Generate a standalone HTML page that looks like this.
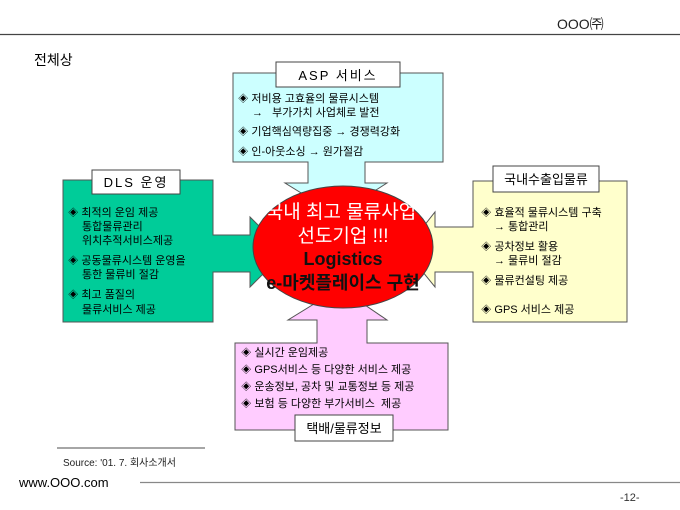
<!DOCTYPE html>
<html><head><meta charset="utf-8"><style>
html,body{margin:0;padding:0;background:#fff;}
svg{display:block;font-family:"Liberation Sans","Noto Sans CJK KR","NanumGothic",sans-serif;}
.t{font-size:11px;fill:#000;}
</style></head><body>
<svg width="680" height="510" viewBox="0 0 680 510">
<text x="557" y="29" font-size="14" fill="#222">OOO㈜</text>
<line x1="0" y1="34.5" x2="680" y2="34.5" stroke="#444" stroke-width="1.2"/>
<text x="34" y="65" font-size="14" fill="#000">전체상</text>

<polygon points="233,73 443,73 443,162 365,162 365,183 387,183 337,215 285,183 308,183 308,162 233,162" fill="#ccffff" stroke="#555"/>
<polygon points="63,180 213,180 213,235 250,235 250,217 285,252 250,287 250,272 213,272 213,322 63,322" fill="#00cc99" stroke="#555"/>
<polygon points="473,181 627,181 627,322 473,322 473,272 435,272 435,287 405,250 435,212 435,227 473,227" fill="#ffffcc" stroke="#555"/>
<polygon points="235,343 317,343 317,320 288,320 340,288 387,320 367,320 367,343 448,343 448,430 235,430" fill="#ffccff" stroke="#555"/>

<ellipse cx="343" cy="247" rx="90" ry="61" fill="#ff0000" stroke="#444"/>
<g font-size="18" font-weight="bold" text-anchor="middle">
<text x="341" y="218" fill="#fff" font-weight="normal" font-size="19">국내 최고 물류사업</text>
<text x="343" y="242" fill="#fff" font-weight="normal" font-size="19">선도기업 !!!</text>
<text x="343" y="265" fill="#111">Logistics</text>
<text x="343" y="289" fill="#111">e-마켓플레이스 구현</text>
</g>

<rect x="276" y="62" width="124" height="25" fill="#fff" stroke="#444"/>
<text x="338" y="80" font-size="13" text-anchor="middle" letter-spacing="2">ASP 서비스</text>
<rect x="92" y="170" width="88" height="24" fill="#fff" stroke="#444"/>
<text x="136" y="187" font-size="13" text-anchor="middle" letter-spacing="2">DLS 운영</text>
<rect x="493" y="166" width="106" height="26" fill="#fff" stroke="#444"/>
<text x="546" y="184" font-size="13" text-anchor="middle">국내수출입물류</text>
<rect x="295" y="415" width="98" height="26" fill="#fff" stroke="#444"/>
<text x="344" y="433" font-size="13" text-anchor="middle">택배/물류정보</text>

<g class="t">
<text class="t" x="238" y="102">◈ 저비용 고효율의 물류시스템</text>
<text class="t" x="252" y="116">→&#160;&#160;&#160;부가가치 사업체로 발전</text>
<text class="t" x="238" y="135">◈ 기업핵심역량집중 → 경쟁력강화</text>
<text class="t" x="238" y="155">◈ 인-아웃소싱 → 원가절감</text>

<text class="t" x="68" y="216">◈ 최적의 운임 제공</text>
<text class="t" x="82" y="230">통합물류관리</text>
<text class="t" x="82" y="244">위치추적서비스제공</text>
<text class="t" x="68" y="264">◈ 공동물류시스템 운영을</text>
<text class="t" x="82" y="278">통한 물류비 절감</text>
<text class="t" x="68" y="298">◈ 최고 품질의</text>
<text class="t" x="82" y="313">물류서비스 제공</text>

<text class="t" x="481" y="216">◈ 효율적 물류시스템 구축</text>
<text class="t" x="494" y="230">→ 통합관리</text>
<text class="t" x="481" y="250">◈ 공차정보 활용</text>
<text class="t" x="494" y="264">→ 물류비 절감</text>
<text class="t" x="481" y="284">◈ 물류컨설팅 제공</text>
<text class="t" x="481" y="313">◈ GPS 서비스 제공</text>

<text class="t" x="241" y="356">◈ 실시간 운임제공</text>
<text class="t" x="241" y="373">◈ GPS서비스 등 다양한 서비스 제공</text>
<text class="t" x="241" y="390">◈ 운송정보, 공차 및 교통정보 등 제공</text>
<text class="t" x="241" y="407">◈ 보험 등 다양한 부가서비스&#160; 제공</text>
</g>

<line x1="57" y1="448" x2="205" y2="448" stroke="#888" stroke-width="1.5"/>
<text x="63" y="466" font-size="10" fill="#222">Source: '01. 7. 회사소개서</text>
<text x="19" y="487" font-size="13" fill="#000">www.OOO.com</text>
<line x1="140" y1="482.5" x2="680" y2="482.5" stroke="#888" stroke-width="1.2"/>
<text x="620" y="501" font-size="11" fill="#333">-12-</text>
</svg>
</body></html>
